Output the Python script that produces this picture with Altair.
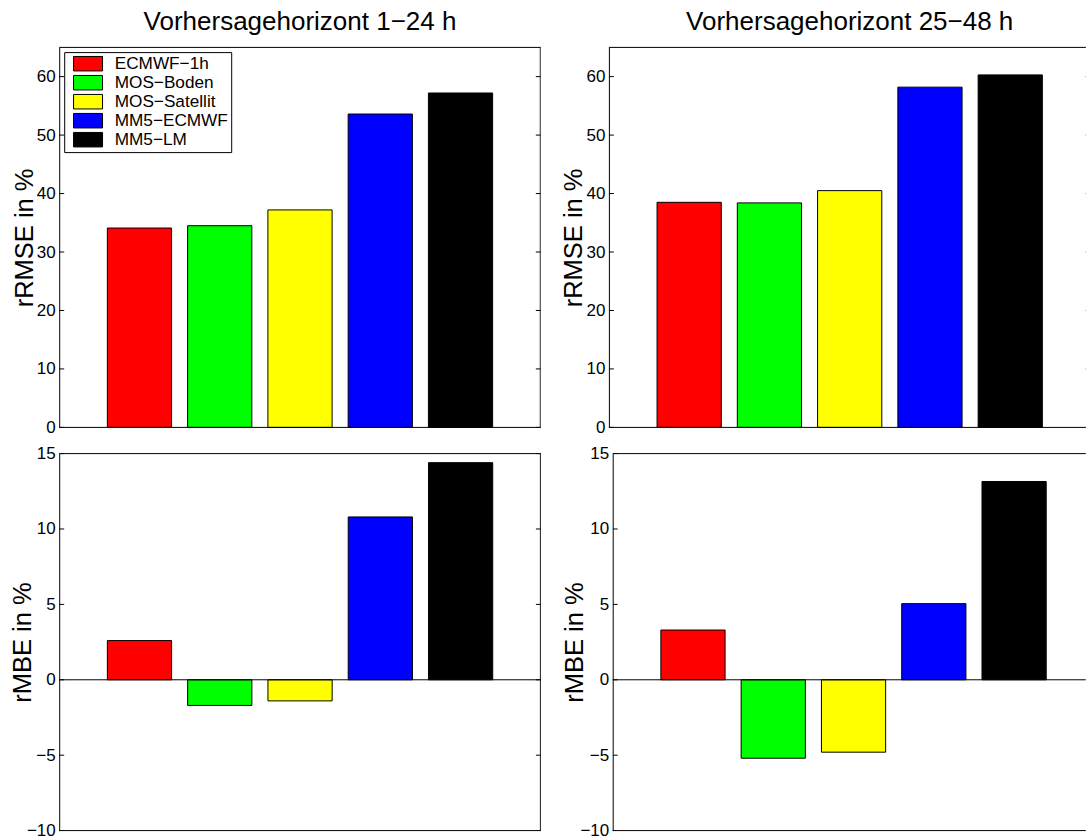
import altair as alt
import pandas as pd

# Forecast models and their bar colours
MODELS = ["ECMWF−1h", "MOS−Boden", "MOS−Satellit", "MM5−ECMWF", "MM5−LM"]
COLORS = ["#ff0000", "#00ff00", "#ffff00", "#0000ff", "#000000"]
POSITIONS = [1, 2, 3, 4, 5]

# Relative RMSE (%) per forecast horizon
RRMSE_1_24 = [34.1, 34.5, 37.2, 53.6, 57.2]
RRMSE_25_48 = [38.5, 38.4, 40.5, 58.2, 60.3]

# Relative mean bias error (%) per forecast horizon
RMBE_1_24 = [2.6, -1.7, -1.4, 10.8, 14.4]
RMBE_25_48 = [3.3, -5.2, -4.8, 5.05, 13.15]

RRMSE_TICKS = [0, 10, 20, 30, 40, 50, 60]
RMBE_TICKS = [-10, -5, 0, 5, 10, 15]

TITLE_LEFT = "Vorhersagehorizont 1−24 h"
TITLE_RIGHT = "Vorhersagehorizont 25−48 h"
YTITLE_TOP = "rRMSE in %"
YTITLE_BOTTOM = "rMBE in %"

FONT = "Liberation Sans"
TICK_LEN = 0.062   # inward tick length in x units
X_END = 6          # x range of each axes box is [0, 6]


def panel(values, ticks, lo, hi, w, h, unit, ytitle, title_x,
          title=None, title_dx=0, legend=False):
    """One axes box of width `w` px; `unit` is the width of one x unit (px)."""
    bars_df = pd.DataFrame({"Modell": MODELS, "Wert": values, "Pos": POSITIONS})
    tick_df = pd.DataFrame({"t": ticks})
    one = pd.DataFrame({"v": [0]})

    x_max = w / unit
    x_right = min(X_END, x_max)
    half_px = 0.5 / unit   # half a pixel in x units

    xs = alt.Scale(domain=[0, x_max], nice=False, zero=False)
    ys = alt.Scale(domain=[lo, hi], nice=False, zero=False)

    # x axis carries nothing visible; the box is drawn by the y domain and rules
    xaxis = alt.Axis(labels=False, ticks=False, grid=False, domain=False, title=None)
    yaxis = alt.Axis(values=ticks, ticks=False, tickSize=0, grid=False,
                     domain=True, domainColor="black", domainWidth=1,
                     labelPadding=4, labelFontSize=17, labelFont=FONT,
                     labelColor="black", labelOverlap=False,
                     title=ytitle, titleFont=FONT, titleFontSize=25.5,
                     titleFontWeight="normal", titleColor="black",
                     titleAngle=270, titleAlign="center",
                     titleBaseline="alphabetic", titleX=title_x, titleY=h / 2)

    def xd(v):
        return alt.XDatum(v, scale=xs, axis=xaxis)

    def yd(v):
        return alt.YDatum(v, scale=ys, axis=yaxis)

    if legend:
        leg = alt.Legend(orient="none", legendX=5, legendY=4.7, title=None,
                         symbolType="M-1,-1H3V1H-1Z", symbolSize=210,
                         symbolStrokeColor="black", symbolStrokeWidth=1,
                         symbolOpacity=1, symbolOffset=5,
                         labelFont=FONT, labelFontSize=17.2, labelLimit=300,
                         labelColor="black", labelOffset=25.3, rowPadding=0,
                         padding=3, strokeColor="black", fillColor="white")
    else:
        leg = None

    bars = alt.Chart(bars_df).transform_calculate(
        x0="datum.Pos - 0.4", x1="datum.Pos + 0.4"
    ).mark_bar(stroke="black", strokeWidth=1).encode(
        x=alt.X("x0:Q", scale=xs, axis=xaxis),
        x2="x1",
        y=alt.Y("Wert:Q", scale=ys, axis=yaxis),
        y2=alt.datum(0),
        color=alt.Color("Modell:N", scale=alt.Scale(domain=MODELS, range=COLORS),
                        legend=leg),
    )

    rule = dict(color="black", strokeWidth=1)
    layers = [bars]
    # inward ticks on both sides
    layers.append(alt.Chart(tick_df).mark_rule(clip=True, **rule).encode(
        y=alt.Y("t:Q", scale=ys, axis=yaxis), x=xd(0), x2=alt.datum(TICK_LEN)))
    if X_END - TICK_LEN < x_right:
        layers.append(alt.Chart(tick_df).mark_rule(clip=True, **rule).encode(
            y=alt.Y("t:Q", scale=ys, axis=yaxis), x=xd(X_END - TICK_LEN),
            x2=alt.datum(x_right)))
    # box: right side (the left side is the y axis domain)
    if x_max >= X_END - 1e-9:
        layers.append(alt.Chart(one).mark_rule(clip=True, **rule).encode(
            x=xd(X_END - half_px)))
    # box: top and bottom, plus the zero baseline
    for yv in sorted({lo, hi, 0}):
        layers.append(alt.Chart(one).mark_rule(**rule).encode(
            y=yd(yv), x=xd(0), x2=alt.datum(x_right)))

    props = dict(width=w, height=h)
    if title is not None:
        props["title"] = alt.TitleParams(title, font=FONT, fontSize=26,
                                         fontWeight="normal", color="black",
                                         anchor="middle", frame="group",
                                         baseline="alphabetic", offset=-9.4,
                                         dx=title_dx)
    return alt.layer(*layers).properties(**props)


W_TL, W_BL = 481.6, 481.7
tl = panel(RRMSE_1_24, RRMSE_TICKS, 0, 65, W_TL, 380, W_TL / 6, YTITLE_TOP, -27,
           title=TITLE_LEFT, legend=True)
tr = panel(RRMSE_25_48, RRMSE_TICKS, 0, 65, 477, 380, 80.27, YTITLE_TOP, -27,
           title=TITLE_RIGHT, title_dx=2.3)
bl = panel(RMBE_1_24, RMBE_TICKS, -10, 15, W_BL, 377, W_BL / 6, YTITLE_BOTTOM, -28.3)
br = panel(RMBE_25_48, RMBE_TICKS, -10, 15, 473.1, 377, W_BL / 6, YTITLE_BOTTOM, -29.8)

top_row = alt.hconcat(tl, tr, spacing=67.7, bounds="flush").resolve_legend(color="independent")
bottom_row = alt.hconcat(bl, br, spacing=71.5, bounds="flush").resolve_legend(color="independent")

chart = alt.vconcat(top_row, bottom_row, spacing=9.2).resolve_legend(
    color="independent"
).properties(
    padding={"left": 10.2, "top": 8.4, "right": 0, "bottom": 0},
    background="white",
).configure_view(stroke=None)

chart.save("out.html", embed_options={"renderer": "svg", "actions": False})
